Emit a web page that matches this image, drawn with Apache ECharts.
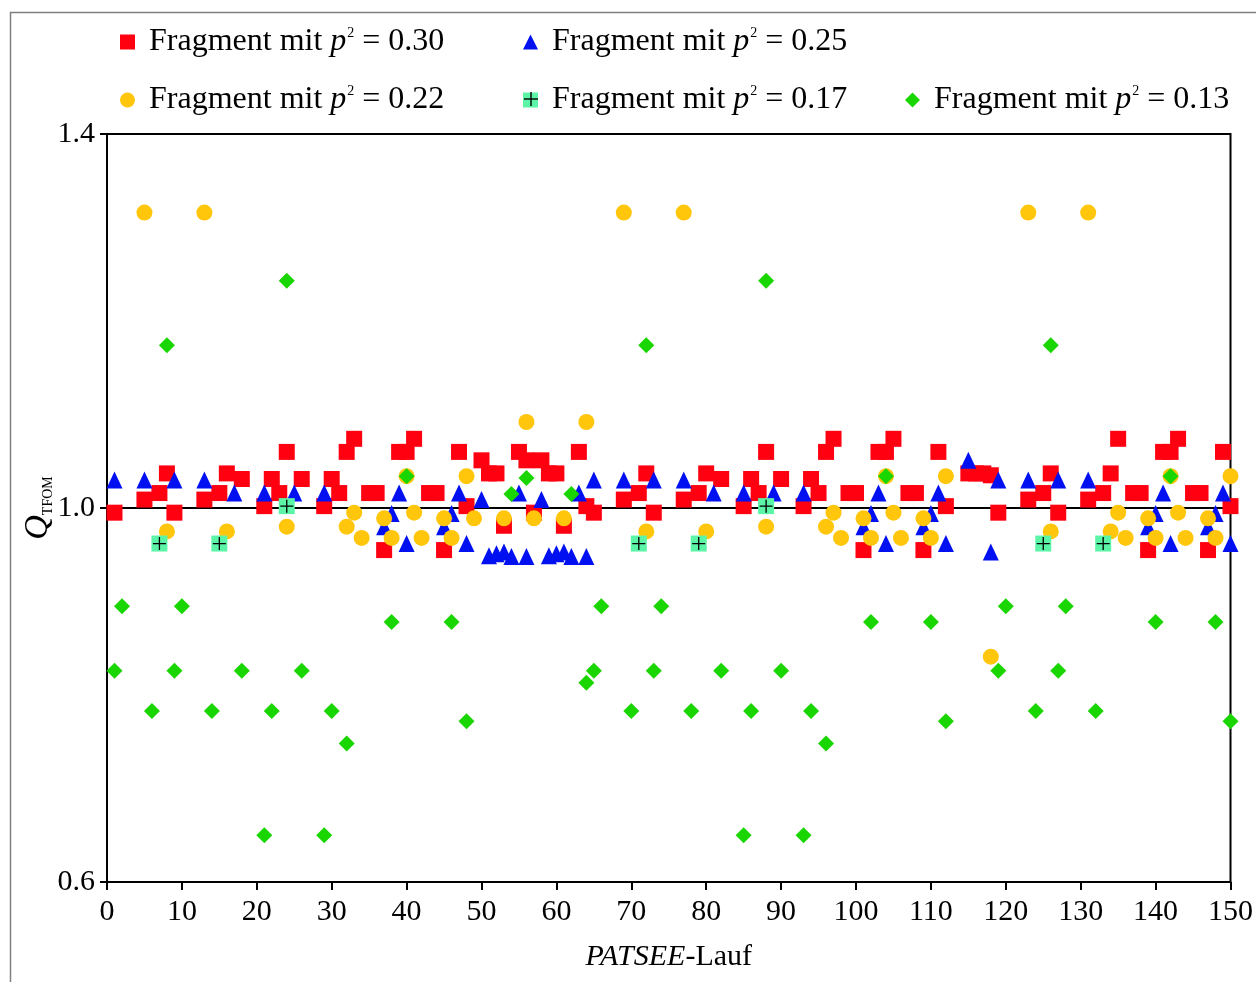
<!DOCTYPE html>
<html>
<head>
<meta charset="utf-8">
<script src="https://cdn.jsdelivr.net/npm/echarts@6/dist/echarts.min.js"></script>
<style>
  html, body { margin: 0; padding: 0; background: #fff; }
  #scatterPlot { width: 1256px; height: 982px; }
</style>
</head>
<body>
<div id="scatterPlot"></div>
<script>
// Werte [PATSEE-Lauf, Q_TFOM]
var frag030 = [
    [1, 0.995], [5, 1.009], [7, 1.016], [8, 1.037], [9, 0.995],
    [13, 1.009], [15, 1.016], [16, 1.037], [18, 1.031], [21, 1.002],
    [22, 1.031], [23, 1.016], [24, 1.060], [26, 1.031], [29, 1.002],
    [30, 1.031], [31, 1.016], [32, 1.060], [33, 1.074], [35, 1.016],
    [36, 1.016], [37, 0.955], [39, 1.060], [40, 1.060], [41, 1.074],
    [43, 1.016], [44, 1.016], [45, 0.955], [47, 1.060], [48, 1.002],
    [50, 1.051], [51, 1.037], [52, 1.037], [53, 0.981], [55, 1.060],
    [56, 1.051], [57, 0.995], [58, 1.051], [59, 1.037], [60, 1.037],
    [61, 0.981], [63, 1.060], [64, 1.002], [65, 0.995], [69, 1.009],
    [71, 1.016], [72, 1.037], [73, 0.995], [77, 1.009], [79, 1.016],
    [80, 1.037], [82, 1.031], [85, 1.002], [86, 1.031], [87, 1.016],
    [88, 1.060], [90, 1.031], [93, 1.002], [94, 1.031], [95, 1.016],
    [96, 1.060], [97, 1.074], [99, 1.016], [100, 1.016], [101, 0.955],
    [103, 1.060], [104, 1.060], [105, 1.074], [107, 1.016], [108, 1.016],
    [109, 0.955], [111, 1.060], [112, 1.002], [115, 1.037], [116, 1.037],
    [117, 1.037], [118, 1.035], [119, 0.995], [123, 1.009], [125, 1.016],
    [126, 1.037], [127, 0.995], [131, 1.009], [133, 1.016], [134, 1.037],
    [135, 1.074], [137, 1.016], [138, 1.016], [139, 0.955], [141, 1.060],
    [142, 1.060], [143, 1.074], [145, 1.016], [146, 1.016], [147, 0.955],
    [149, 1.060], [150, 1.002]
];

var frag025 = [
    [1, 1.030], [5, 1.030], [9, 1.030], [13, 1.030], [17, 1.016],
    [21, 1.016], [25, 1.016], [29, 1.016], [37, 0.980], [38, 0.994],
    [39, 1.016], [40, 0.962], [45, 0.980], [46, 0.994], [47, 1.016],
    [48, 0.962], [50, 1.009], [51, 0.949], [52, 0.951], [53, 0.953],
    [54, 0.948], [55, 1.016], [56, 0.948], [58, 1.009], [59, 0.949],
    [60, 0.951], [61, 0.953], [62, 0.948], [63, 1.016], [64, 0.948],
    [65, 1.030], [69, 1.030], [73, 1.030], [77, 1.030], [81, 1.016],
    [85, 1.016], [89, 1.016], [93, 1.016], [101, 0.980], [102, 0.994],
    [103, 1.016], [104, 0.962], [109, 0.980], [110, 0.994], [111, 1.016],
    [112, 0.962], [115, 1.051], [118, 0.953], [119, 1.030], [123, 1.030],
    [127, 1.030], [131, 1.030], [139, 0.980], [140, 0.994], [141, 1.016],
    [142, 0.962], [147, 0.980], [148, 0.994], [149, 1.016], [150, 0.962]
];

var frag022 = [
    [5, 1.316], [8, 0.975], [13, 1.316], [16, 0.975], [24, 0.980],
    [32, 0.980], [33, 0.995], [34, 0.968], [37, 0.989], [38, 0.968],
    [40, 1.034], [41, 0.995], [42, 0.968], [45, 0.989], [46, 0.968],
    [48, 1.034], [49, 0.989], [53, 0.989], [56, 1.092], [57, 0.989],
    [61, 0.989], [64, 1.092], [69, 1.316], [72, 0.975], [77, 1.316],
    [80, 0.975], [88, 0.980], [96, 0.980], [97, 0.995], [98, 0.968],
    [101, 0.989], [102, 0.968], [104, 1.034], [105, 0.995], [106, 0.968],
    [109, 0.989], [110, 0.968], [112, 1.034], [118, 0.841], [123, 1.316],
    [126, 0.975], [131, 1.316], [134, 0.975], [135, 0.995], [136, 0.968],
    [139, 0.989], [140, 0.968], [142, 1.034], [143, 0.995], [144, 0.968],
    [147, 0.989], [148, 0.968], [150, 1.034]
];

var frag017 = [
    [7, 0.962], [15, 0.962], [24, 1.002], [71, 0.962],
    [79, 0.962], [88, 1.002], [125, 0.962], [133, 0.962]
];

var frag013 = [
    [1, 0.826], [2, 0.895], [6, 0.783], [8, 1.174], [9, 0.826],
    [10, 0.895], [14, 0.783], [18, 0.826], [21, 0.650], [22, 0.783],
    [24, 1.243], [26, 0.826], [29, 0.650], [30, 0.783], [32, 0.748],
    [38, 0.878], [40, 1.034], [46, 0.878], [48, 0.772], [54, 1.015],
    [56, 1.032], [62, 1.015], [64, 0.813], [65, 0.826], [66, 0.895],
    [70, 0.783], [72, 1.174], [73, 0.826], [74, 0.895], [78, 0.783],
    [82, 0.826], [85, 0.650], [86, 0.783], [88, 1.243], [90, 0.826],
    [93, 0.650], [94, 0.783], [96, 0.748], [102, 0.878], [104, 1.034],
    [110, 0.878], [112, 0.772], [119, 0.826], [120, 0.895], [124, 0.783],
    [126, 1.174], [127, 0.826], [128, 0.895], [132, 0.783], [140, 0.878],
    [142, 1.034], [148, 0.878], [150, 0.772]
];

var p2Labels = ['0.30', '0.25', '0.22', '0.17', '0.13'];
var yTicks = ['0.6', '1.0', '1.4'];

var serif = 'Liberation Serif';

const chartDom = document.getElementById('scatterPlot');
const myChart = echarts.init(chartDom);
let option;

function legendFor(name, left, top, icon) {
    return {
        data: [{ name: name, icon: icon }],
        left: left,
        top: top,
        padding: 0,
        itemWidth: 15,
        itemHeight: 15,
        selectedMode: false,
        formatter: function(n) {
            return 'Fragment mit {i|p}{sup|2} = ' + n;
        },
        textStyle: {
            fontFamily: serif,
            fontSize: 32,
            color: '#000',
            padding: [0, 0, 0, 9],
            rich: {
                i: { fontFamily: serif, fontSize: 32, fontStyle: 'italic', color: '#000' },
                sup: { fontFamily: serif, fontSize: 14, color: '#000', verticalAlign: 'top', padding: [0, 0, 0, 1] }
            }
        }
    };
}

option = {
    backgroundColor: '#fff',
    animation: false,
    graphic: [
        {
            type: 'rect',
            left: 8, top: 10,
            shape: { width: 1300, height: 1000 },
            style: { fill: 'none', stroke: '#808080', lineWidth: 1.5 },
            z: -10
        },
        // schwarzes Kreuz im Legendensymbol fuer p^2 = 0.17
        {
            type: 'rect',
            zlevel: 2, z: 100,
            shape: { x: 524, y: 98.3, width: 14, height: 1.4 },
            style: { fill: '#000' }
        },
        {
            type: 'rect',
            zlevel: 2, z: 100,
            shape: { x: 530.3, y: 92, width: 1.4, height: 14 },
            style: { fill: '#000' }
        }
    ],
    grid: {
        left: 107,
        right: 21,
        top: 134,
        bottom: 100,
        show: true,
        borderColor: '#000',
        borderWidth: 2,
        backgroundColor: '#fff'
    },
    legend: [
        legendFor(p2Labels[0], 120, 26, 'rect'),
        legendFor(p2Labels[1], 523, 26, 'triangle'),
        legendFor(p2Labels[2], 120, 84, 'circle'),
        legendFor(p2Labels[3], 523, 84, 'rect'),
        legendFor(p2Labels[4], 905, 84, 'diamond')
    ],
    xAxis: {
        type: 'value',
        min: 0,
        max: 150,
        interval: 10,
        name: '{i|PATSEE}-Lauf',
        nameLocation: 'middle',
        nameGap: 60,
        nameTextStyle: {
            fontFamily: serif,
            fontSize: 30,
            color: '#000',
            rich: {
                i: { fontFamily: serif, fontSize: 30, fontStyle: 'italic', color: '#000' }
            }
        },
        axisLine: { show: true, lineStyle: { color: '#000', width: 2 } },
        axisTick: { show: true, inside: false, length: 8, lineStyle: { color: '#000', width: 2 } },
        axisLabel: { fontFamily: serif, fontSize: 30, color: '#000', margin: 15 },
        splitLine: { show: false }
    },
    yAxis: {
        type: 'value',
        min: 0.6,
        max: 1.4,
        interval: 0.4,
        name: '{q|Q}{s|TFOM}',
        nameLocation: 'middle',
        nameRotate: 90,
        nameGap: 52,
        nameMoveOverlap: false,
        nameTextStyle: {
            color: '#000',
            rich: {
                q: { fontFamily: serif, fontSize: 34, fontStyle: 'italic', color: '#000' },
                s: { fontFamily: serif, fontSize: 14, color: '#000', verticalAlign: 'bottom' }
            }
        },
        axisLine: { show: true, lineStyle: { color: '#000', width: 2 } },
        axisTick: { show: true, inside: false, length: 7, lineStyle: { color: '#000', width: 2 } },
        axisLabel: {
            fontFamily: serif, fontSize: 30, color: '#000', margin: 12,
            formatter: function(v) {
                return yTicks[Math.round((v - 0.6) / 0.4)];
            }
        },
        splitLine: { show: true, lineStyle: { color: '#000', width: 2 } }
    },
    series: [
        {
            name: p2Labels[0],
            type: 'scatter',
            data: frag030,
            symbol: 'rect',
            symbolSize: 16,
            itemStyle: { color: '#ff0011', opacity: 1 }
        },
        {
            name: p2Labels[1],
            type: 'scatter',
            data: frag025,
            symbol: 'triangle',
            symbolSize: [16, 17],
            itemStyle: { color: '#0010f0', opacity: 1 }
        },
        {
            name: p2Labels[2],
            type: 'scatter',
            data: frag022,
            symbol: 'circle',
            symbolSize: 16,
            itemStyle: { color: '#ffc60b', opacity: 1 }
        },
        {
            name: p2Labels[3],
            type: 'scatter',
            data: frag017,
            symbol: 'rect',
            symbolSize: 16,
            itemStyle: { color: '#5cf5a8', opacity: 1 }
        },
        {
            name: 'kreuz017',
            type: 'scatter',
            data: frag017,
            symbol: 'path://M0,5.4 H12 V6.6 H0 Z M5.4,0 H6.6 V12 H5.4 Z',
            symbolSize: 13,
            itemStyle: { color: '#000', opacity: 1 },
            silent: true
        },
        {
            name: p2Labels[4],
            type: 'scatter',
            data: frag013,
            symbol: 'diamond',
            symbolSize: 16,
            itemStyle: { color: '#1ad600', opacity: 1 }
        }
    ]
};

option && myChart.setOption(option);
</script>
</body>
</html>
